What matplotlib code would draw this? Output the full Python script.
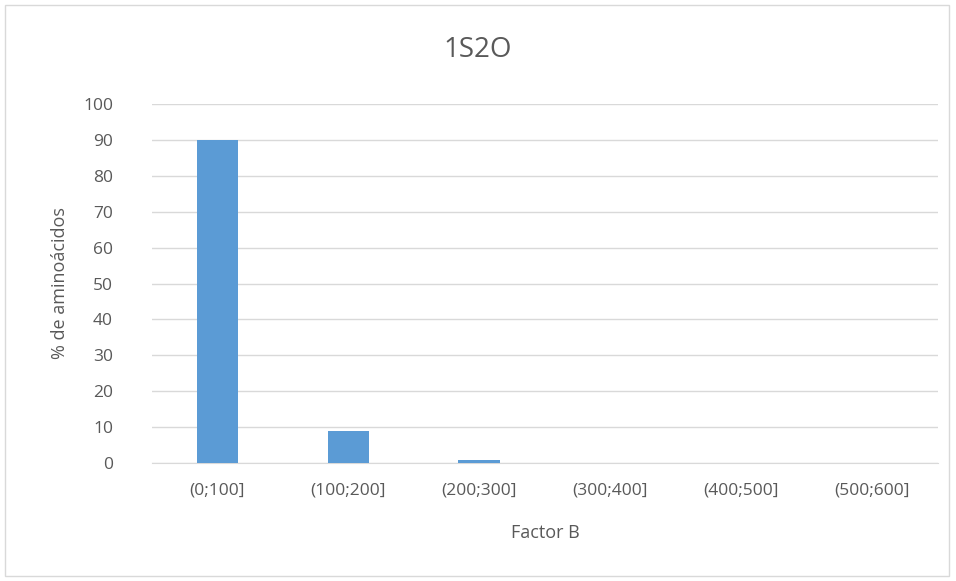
import matplotlib.pyplot as plt
from matplotlib.patches import Rectangle

# Data
categories = ['(0;100]', '(100;200]', '(200;300]', '(300;400]', '(400;500]', '(500;600]']
percent = [90, 8.8, 0.9, 0, 0, 0]

plt.rcParams['font.family'] = ['Open Sans', 'DejaVu Sans']
gray = '#595959'

fig = plt.figure(figsize=(9.56, 5.81), dpi=100)
ax = fig.add_axes([0.159, 0.203, 0.822, 0.618])

x = range(len(categories))
ax.bar(x, percent, width=0.32, color='#5b9bd5', zorder=3)

ax.set_xlim(-0.5, len(categories) - 0.5)
ax.set_ylim(0, 100)
ax.set_yticks(range(0, 101, 10))
ax.set_xticks(list(x))
ax.set_xticklabels(categories)
ax.grid(axis='y', color='#d9d9d9', linewidth=1, zorder=0)
for s in ['top', 'right', 'left']:
    ax.spines[s].set_visible(False)
ax.spines['bottom'].set_color('#d9d9d9')
ax.tick_params(length=0, labelsize=12.5, colors=gray)
ax.tick_params(axis='x', pad=14)
ax.tick_params(axis='y', pad=28)

ax.set_xlabel('Factor B', fontsize=13, color=gray, labelpad=18)
ax.set_ylabel('% de aminoácidos', fontsize=13, color=gray, labelpad=10)
fig.text(0.5, 0.914, '1S2O', ha='center', va='center', fontsize=20, color=gray)

# chart border
fig.patches.append(Rectangle((0.005, 0.008), 0.988, 0.983, transform=fig.transFigure,
                             fill=False, edgecolor='#d9d9d9', linewidth=1))

fig.savefig('out.png', dpi=100)
